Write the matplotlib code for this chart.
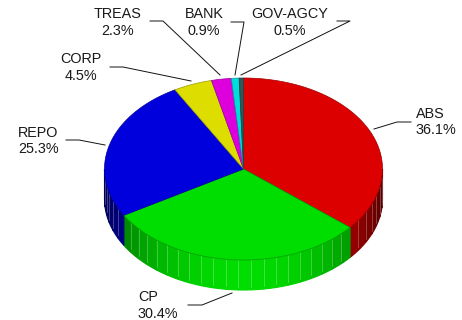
import numpy as np
import matplotlib
matplotlib.use("Agg")
import matplotlib.pyplot as plt
from matplotlib.patches import Polygon

plt.rcParams["font.family"] = ["Liberation Sans", "DejaVu Sans"]

labels = ["ABS", "CP", "REPO", "CORP", "TREAS", "BANK", "GOV-AGCY"]
shares = [36.1, 30.4, 25.3, 4.5, 2.3, 0.9, 0.5]
colors = ["#dd0000", "#00dd00", "#0000dd", "#dddd00", "#dd00dd", "#00dddd", "#335555"]

# pie geometry, in pixels
cx, cy = 243.5, 169
rx, ry = 139, 91
depth = 30

# label anchor, alignment and leader line for each slice
label_pos = [(416, 122), (138, 305.5), (18, 141), (81, 67.5), (118, 22.5), (204, 22.5), (290, 22.5)]
label_align = ["left", "left", "left", "center", "center", "center", "center"]
leaders = [
    [(374, 129), (397, 122), (411, 122)],
    [(232, 293), (202, 305), (188, 305)],
    [(105, 145), (79, 140), (66, 140)],
    [(191, 81), (123, 67), (110, 67)],
    [(220, 75), (163, 21), (150, 21)],
    [(235, 75), (244, 22), (231, 22)],
    [(241, 75), (350, 21), (337, 21)],
]


def rim(a):
    return cx + rx * np.cos(a), cy - ry * np.sin(a)


def shade(color, a):
    # side wall is brightest near the front and falls off to the edges
    f = 0.38 + 0.62 * np.clip(np.abs(np.sin(a)), 0, 1) ** 1.5
    return tuple(c * f for c in matplotlib.colors.to_rgb(color))


fig = plt.figure(figsize=(4.62, 3.2), dpi=100)
ax = fig.add_axes([0, 0, 1, 1])
ax.set_xlim(0, 462)
ax.set_ylim(320, 0)
ax.axis("off")

bounds = np.pi / 2 - np.cumsum([0] + shares) / 100 * 2 * np.pi

# side wall, only the front half can be seen
for i, color in enumerate(colors):
    start, end = bounds[i + 1], bounds[i]
    lo, hi = max(start, -np.pi), min(end, 0)
    if lo < hi:
        n = max(int((hi - lo) / np.radians(5)), 1)
        steps = np.linspace(lo, hi, n + 1)
        for a0, a1 in zip(steps[:-1], steps[1:]):
            t = np.linspace(a0, a1, 6)
            x, y = rim(t)
            pts = np.r_[np.c_[x, y], np.c_[x[::-1], y[::-1] + depth]]
            c = shade(color, (a0 + a1) / 2)
            ax.add_patch(Polygon(pts, closed=True, fc=c, ec=c, lw=0.8, zorder=1))
        # pale lines between the facets, drawn over all of them
        for a0 in steps[1:-1]:
            x0, y0 = rim(a0)
            c = shade(color, a0)
            light = tuple(v + 0.4 * (1 - v) for v in c)
            ax.plot([x0, x0], [y0, y0 + depth - 3], color=light, lw=0.45, zorder=1.5)

# top face
for i, color in enumerate(colors):
    n = max(int((bounds[i] - bounds[i + 1]) / np.radians(1)), 2)
    x, y = rim(np.linspace(bounds[i], bounds[i + 1], n))
    pts = np.r_[[(cx, cy)], np.c_[x, y]]
    edge = tuple(c * 0.7 for c in matplotlib.colors.to_rgb(color))
    ax.add_patch(Polygon(pts, closed=True, fc=color, ec=edge, lw=0.5, zorder=2))

for label, share, (tx, ty), align, line in zip(labels, shares, label_pos, label_align, leaders):
    ax.text(tx, ty, f"{label}\n{share:.1f}%", ha=align, va="center", multialignment=align,
            fontsize=10.4, color="#1a1a1a", linespacing=1.25, zorder=4)
    xs, ys = zip(*line)
    ax.plot(xs, ys, color="#111111", lw=0.7, zorder=3)

fig.savefig("out.png", dpi=100)
